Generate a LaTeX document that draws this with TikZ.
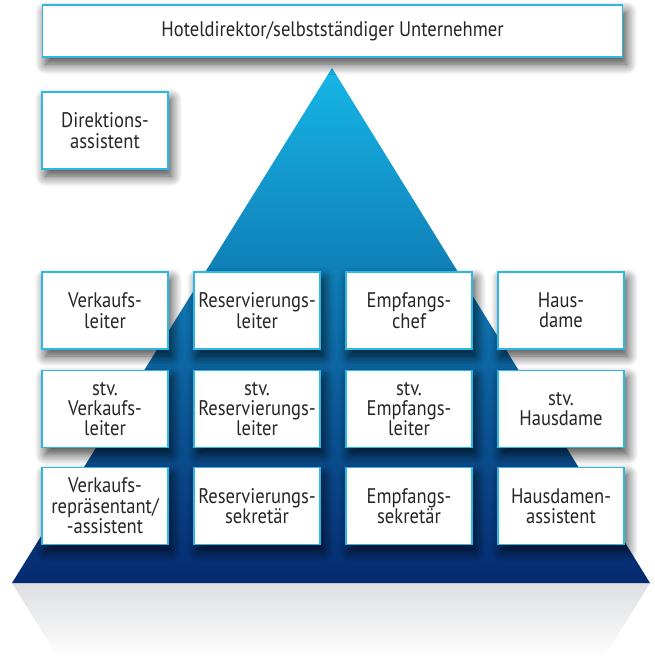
\documentclass[tikz,border=0pt]{standalone}
\usepackage{fontspec}
\setmainfont[FakeStretch=0.88]{PT Sans}
\usetikzlibrary{shadows.blur}

\definecolor{boxline}{RGB}{45,184,228}
\definecolor{pyrtop}{RGB}{22,182,230}
\definecolor{pyrmid}{RGB}{9,92,152}
\definecolor{pyrbot}{RGB}{6,42,112}
\definecolor{mirrortop}{RGB}{222,223,226}

\def \boxW {2.52cm}
\def \boxH {1.54cm}

\tikzset{
  posten/.style={draw=boxline, line width=0.6pt, fill=white, align=center,
    minimum width=\boxW, minimum height=\boxH, inner sep=1pt,
    font=\fontsize{12}{11.6}\selectfont, text=black!85,
    blur shadow={shadow xshift=2pt, shadow yshift=-4pt, shadow blur radius=6pt,
      shadow blur steps=12, shadow opacity=75}},
}

\begin{document}
\begin{tikzpicture}[x=0.02cm, y=-0.02cm]
      \useasboundingbox (0,0) rectangle (655,659);
      % pyramid and its mirror image
      \shade[top color=mirrortop, bottom color=white] (12,583) -- (650,583) -- (603,659) -- (59,659) -- cycle;
      \shade[top color=pyrtop, middle color=pyrmid, bottom color=pyrbot] (332,68) -- (650,583) -- (12,583) -- cycle;

      \node[posten, minimum width=11.62cm, minimum height=1.04cm] (direktor) at (332.5,31) {Hoteldirektor/selbstständiger Unternehmer};
      \node[posten] (assistent) at (105,130.5) {Direktions-\\assistent};

      \node[posten] (verkauf) at (105,310.5) {Verkaufs-\\leiter};
      \node[posten] (reserv) at (257,310.5) {Reservierungs-\\leiter};
      \node[posten] (empfang) at (409,310.5) {Empfangs-\\chef};
      \node[posten] (haus) at (561,310.5) {Haus-\\dame};

      \node[posten] (stvverkauf) at (105,409) {stv.\\Verkaufs-\\leiter};
      \node[posten] (stvreserv) at (257,409) {stv.\\Reservierungs-\\leiter};
      \node[posten] (stvempfang) at (409,409) {stv.\\Empfangs-\\leiter};
      \node[posten] (stvhaus) at (561,409) {stv.\\Hausdame};

      \node[posten] (verkaufrep) at (105,506) {Verkaufs-\\repräsentant/\\-assistent};
      \node[posten] (reservsek) at (257,506) {Reservierungs-\\sekretär};
      \node[posten] (empfangsek) at (409,506) {Empfangs-\\sekretär};
      \node[posten] (hausass) at (561,506) {Hausdamen-\\assistent};
   \end{tikzpicture}
\end{document}
